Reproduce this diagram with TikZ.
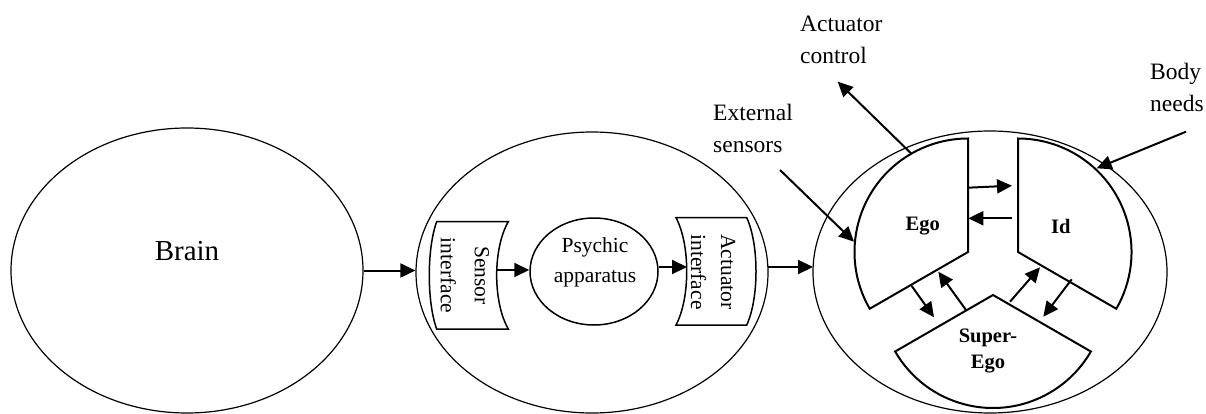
\documentclass[tikz,border=0pt]{standalone}
\usepackage{fontspec}
\setmainfont{Liberation Serif}
\usetikzlibrary{shapes.geometric,arrows.meta}
\begin{document}
\begin{tikzpicture}[x=1pt,y=-1pt,
  bigell/.style={draw, ellipse, line width=1.2pt, minimum width=352pt, minimum height=282pt, inner sep=0pt},
  psyell/.style={draw, ellipse, line width=1.5pt, minimum width=128pt, minimum height=107pt, inner sep=0pt},
  arr/.style={-{Triangle[length=15pt,width=14pt]}, line width=2pt},
  part/.style={draw, line width=2pt, line join=miter},
  iface/.style={draw, line width=1.5pt},
  lbl/.style={font=\fontsize{23.5}{32}\selectfont, align=left, inner sep=0pt},
  itxt/.style={font=\fontsize{21.5}{30}\selectfont, align=center, inner sep=0pt},
  btxt/.style={font=\bfseries\fontsize{20.5}{26}\selectfont, align=center, inner sep=0pt}]
\useasboundingbox (0,0) rectangle (1206,414);

% big ellipses
\node[bigell, minimum height=285pt] (brain) at (187,270.5) {};
\node[font=\fontsize{29}{34}\selectfont, inner sep=0pt] (braintxt) at (187,251) {Brain};
\node[bigell, minimum height=281pt] (mid) at (592,272.5) {};
\node[bigell, minimum width=354pt] (right) at (990,272) {};

% sensor interface
\draw[iface] (436.7,221.7) -- (508.3,221.7)
  .. controls (492.8,248.5) and (492.8,302.2) .. (508.3,329)
  -- (436.7,329)
  .. controls (426.8,302.2) and (426.8,248.5) .. (436.7,221.7) -- cycle;
\node[itxt, rotate=-90, font=\fontsize{21.5}{34}\selectfont] (sens) at (465,275.5) {Sensor\\interface};

% psychic apparatus
\node[psyell] (psy) at (594,271.5) {};
\node[itxt] (psytxt) at (595,262) {Psychic\\apparatus};

% actuator interface
\draw[iface] (676,217.7) -- (746.7,217.7)
  .. controls (759.1,244.5) and (759.1,298.2) .. (746.7,325)
  -- (676,325)
  .. controls (690.3,298.2) and (690.3,244.5) .. (676,217.7) -- cycle;
\node[itxt, rotate=-90] (act) at (713,272) {Actuator\\interface};

% coordinates for connectors
\coordinate (sens-out) at (497,270);
\coordinate (act-in) at (687,267);
\coordinate (mid-out) at (768,267);
\coordinate (right-in) at (813,267);

\draw[arr] (brain.east) -- (brain.east -| mid.west);
\draw[arr] (sens-out) -- (sens-out -| psy.west);
\draw[arr] (act-in -| psy.east) -- (act-in);
\draw[arr] (mid-out) -- (right-in);

% Ego, Id, Super-Ego
\draw[part] (968,138.5) -- (968,252) -- ++(150:113.5) arc[start angle=150, end angle=270, radius=113.5] -- cycle;
\draw[part] (1018,138.5) -- (1018,252) -- ++(30:113.5) arc[start angle=30, end angle=-90, radius=113.5] -- cycle;
\draw[part] (993,295) -- ++(150:113) arc[start angle=150, end angle=30, radius=113] -- cycle;
\node[btxt] (ego) at (922.7,226) {Ego};
\node[btxt] (id) at (1060.7,226) {Id};
\node[btxt] (super) at (988,351) {Super-\\Ego};

% inner arrows
\coordinate (e1) at (968,187.7); \coordinate (i1) at (1012,185.7);
\coordinate (i2) at (1012,218.3); \coordinate (e2) at (968.3,218.3);
\coordinate (e3) at (911.7,286); \coordinate (s3) at (934,317.3);
\coordinate (s4) at (966,310); \coordinate (e4) at (938.3,271.7);
\coordinate (s5) at (1010,301.7); \coordinate (i5) at (1040,267.3);
\coordinate (i6) at (1071.7,279.3); \coordinate (s6) at (1043.3,316.7);
\draw[arr] (e1) -- (i1);
\draw[arr] (i2) -- (e2);
\draw[arr] (e3) -- (s3);
\draw[arr] (s4) -- (e4);
\draw[arr] (s5) -- (i5);
\draw[arr] (i6) -- (s6);

% external labels (base anchor = baseline of last line)
\node[lbl, anchor=base west] (actctl) at (800,63.5) {Actuator\\control};
\node[lbl, anchor=base west] (extsens) at (713,153) {External\\sensors};
\node[lbl, anchor=base west] (body) at (1150,112) {Body\\needs};

\coordinate (ac-from) at (911.7,154);
\coordinate (ac-to) at (837.7,81.7);
\coordinate (es-from) at (780,170);
\coordinate (es-to) at (854,241.7);
\coordinate (bn-from) at (1186,131.7);
\coordinate (bn-to) at (1096.7,168.3);
\draw[arr] (ac-from) -- (ac-to);
\draw[arr] (es-from) -- (es-to);
\draw[arr] (bn-from) -- (bn-to);
\end{tikzpicture}
\end{document}
